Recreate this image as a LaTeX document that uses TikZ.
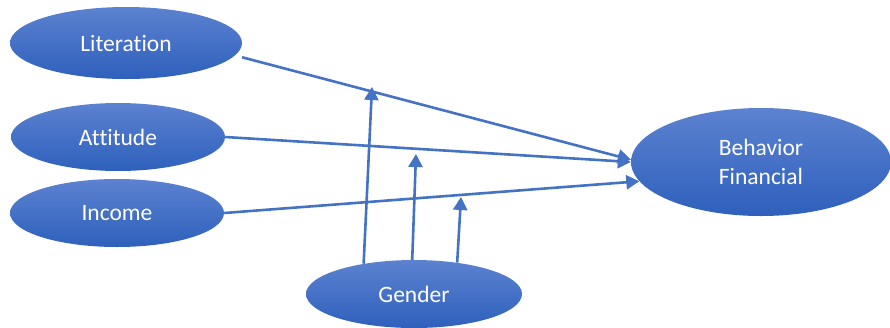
\documentclass[tikz,border=0pt]{standalone}
\usepackage{fontspec}
\setmainfont{Carlito}[Ligatures={NoCommon}]
\usetikzlibrary{shapes.geometric,arrows.meta,calc}
\definecolor{topblue}{RGB}{92,130,208}
\definecolor{botblue}{RGB}{46,96,188}
\definecolor{linkblue}{RGB}{68,114,196}
\tikzset{
  oval/.style={ellipse, inner sep=0pt, top color=topblue, bottom color=botblue, draw=none,
    text=white, font=\fontsize{23.5}{29}\selectfont, align=center},
  link/.style={draw=linkblue, line width=2.6pt, -{Triangle[length=13pt,width=14pt]}}
}
\begin{document}
\begin{tikzpicture}[x=1pt,y=-1pt]
\useasboundingbox (0,0) rectangle (890,327);
\node[oval, minimum width=232pt, minimum height=72pt] (lit) at (126,43) {Literation};
\node[oval, minimum width=214pt, minimum height=68pt] (att) at (118,137) {Attitude};
\node[oval, minimum width=214pt, minimum height=68pt] (inc) at (117,213) {Income};
\node[oval, minimum width=260pt, minimum height=108pt] (bf) at (761,162) {Behavior\\Financial};
\node[oval, minimum width=216pt, minimum height=68pt] (gen) at (414,294) {Gender};
\coordinate (g1) at (372,87);
\coordinate (g2) at (416,154);
\coordinate (g3) at (461,197);
\draw[link] ($(lit.-7)+(8,1)$) -- (bf.179);
\draw[link] (att.east) -- (bf.180);
\draw[link] (inc.east) -- (bf.189);
\draw[link] (gen.149) -- (g1);
\draw[link] (gen.93) -- (g2);
\draw[link] (gen.36) -- (g3);
\end{tikzpicture}
\end{document}
